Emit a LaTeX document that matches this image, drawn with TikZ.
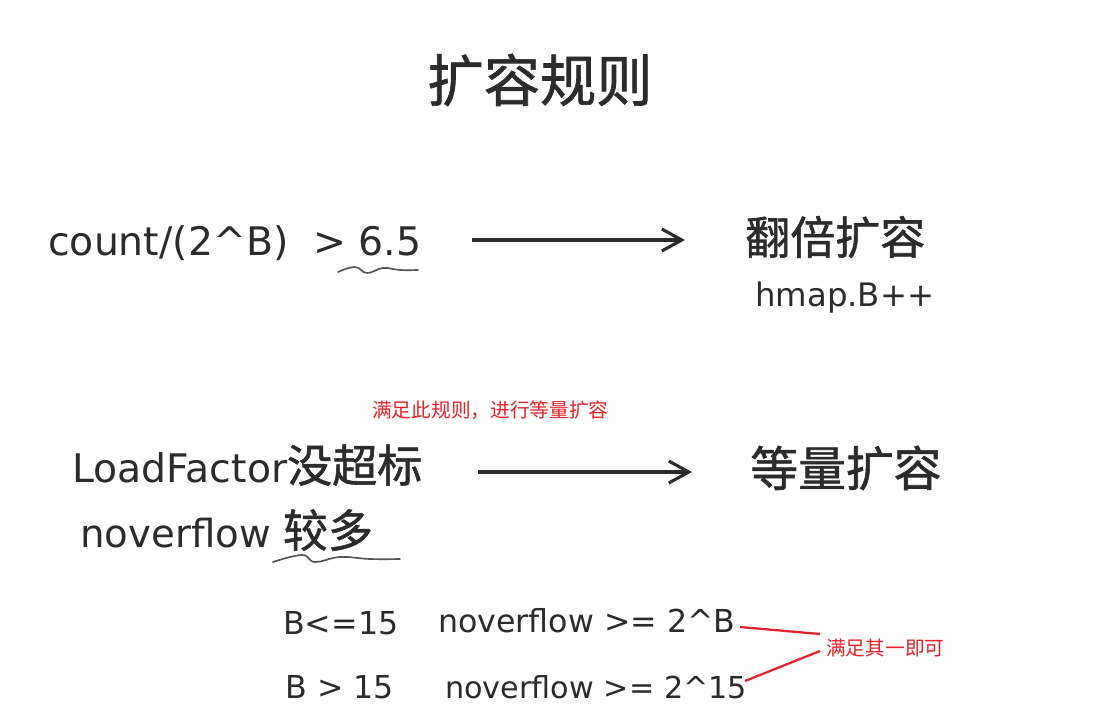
\documentclass[tikz,border=0pt]{standalone}
\usepackage{fontspec}
\setmainfont{DejaVu Sans}
\newfontfamily\cjk{Noto Sans CJK SC}
\newfontfamily\cjkb{Noto Sans CJK SC}[FakeBold=1.2]
\usetikzlibrary{arrows.meta}
\definecolor{ink}{HTML}{2B2B2B}
\definecolor{mark}{HTML}{E8202A}

\begin{document}
\begin{tikzpicture}[x=0.025cm,y=-0.025cm,
txt/.style={anchor=west,inner sep=0pt,text=ink,font=\fontsize{28}{30}\selectfont},
small/.style={anchor=west,inner sep=0pt,text=ink,font=\fontsize{22.5}{25}\selectfont},
big/.style={anchor=west,inner sep=0pt,text=ink,font=\cjkb\fontsize{32}{34}\selectfont},
note/.style={anchor=west,inner sep=0pt,text=mark,font=\cjk\fontsize{14}{16}\selectfont},
arr/.style={-{Straight Barb[length=5mm,width=5.5mm]},line width=2.2pt,draw=ink},
wave/.style={draw=ink!80,line width=1.2pt,line cap=round},
link/.style={draw=mark,line width=1.6pt}]
\useasboundingbox (0,0) rectangle (1099,725);
% title
\node[inner sep=0pt,text=ink,font=\cjkb\fontsize{40}{42}\selectfont] (title) at (540,80) {扩容规则};
% rule 1
\node[txt] (cond1) at (48,243) {count/(2\textasciicircum B)\ \ > 6.5};
\node[big] (res1) at (745,237) {翻倍扩容};
\node[txt,font=\fontsize{23}{25}\selectfont] (incB) at (755,298) {hmap.B++};
\coordinate (a1) at (472,240);
\coordinate (b1) at (685,240);
\draw[arr] (a1) -- (b1);
\draw[wave] plot[smooth,tension=0.7] coordinates {(338,272) (355,267) (367,273) (383,268) (400,270) (418,270)};
% rule 2
\node[note] (hint) at (372,410) {满足此规则，进行等量扩容};
\node[txt] (cond2) at (72,465) {LoadFactor{\cjkb\fontsize{32}{34}\selectfont 没超标}};
\node[txt,font=\fontsize{27.5}{30}\selectfont] (cond3) at (80,530) {noverflow {\cjkb\fontsize{32}{34}\selectfont 较多}};
\node[big,font=\cjkb\fontsize{34}{36}\selectfont] (res2) at (750,468) {等量扩容};
\coordinate (a2) at (478,472);
\coordinate (b2) at (692,472);
\draw[arr] (a2) -- (b2);
\draw[wave] plot[smooth,tension=0.7] coordinates {(273,562) (302,555) (315,562) (340,557) (370,559) (400,559)};
% thresholds
\node[small] (lo) at (283,623) {B<=15};
\node[small] (ge1) at (438,621) {noverflow >= 2\textasciicircum B};
\node[small] (hi) at (285,687) {B > 15};
\node[small,font=\fontsize{21.5}{24}\selectfont] (ge2) at (445,687) {noverflow >= 2\textasciicircum 15};
\node[note] (either) at (826,648) {满足其一即可};
\coordinate (p1) at (740,627);
\coordinate (q1) at (820,634);
\coordinate (p2) at (745,681);
\coordinate (q2) at (820,651);
\draw[link] (p1) -- (q1);
\draw[link] (p2) -- (q2);
\end{tikzpicture}
\end{document}
